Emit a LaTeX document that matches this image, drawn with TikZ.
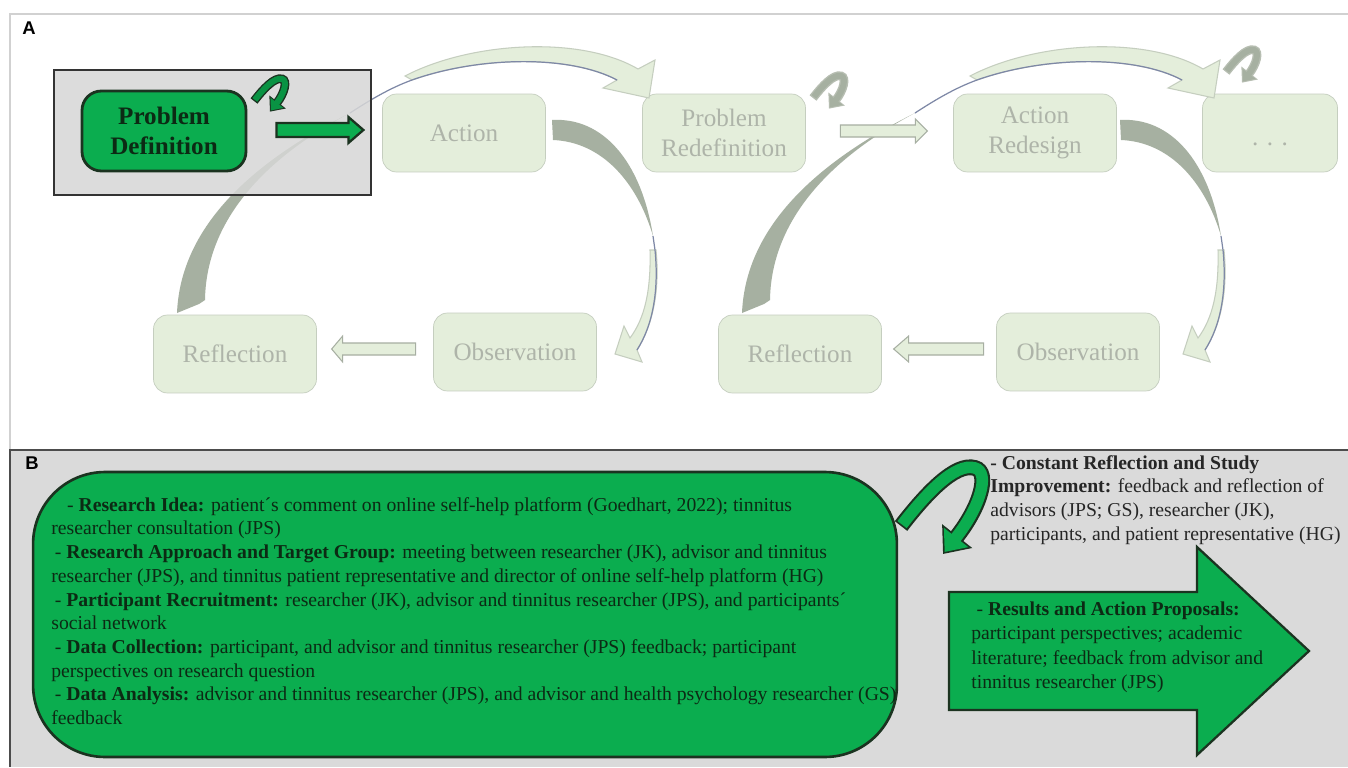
\documentclass[tikz,border=0pt]{standalone}
\usepackage{fontspec}
\setmainfont{Liberation Serif}
\setsansfont{Liberation Sans}
\usepackage{tikz}
\usetikzlibrary{arrows.meta, calc, positioning}

\definecolor{pgreen}{HTML}{0BAD4F}
\definecolor{pline}{HTML}{1B3320}
\definecolor{ptext}{HTML}{0C2A14}
\definecolor{lfill}{HTML}{E4EEDB}
\definecolor{lline}{HTML}{C5CEBF}
\definecolor{ltext}{HTML}{AEB4A9}
\definecolor{gband}{HTML}{A6B0A1}
\definecolor{tline}{HTML}{7E88A6}
\definecolor{boxgray}{HTML}{D7D7D7}
\definecolor{panelgray}{HTML}{DADADA}

\tikzstyle{lightbox} = [rectangle, draw=lline, fill=lfill, rounded corners=8pt, minimum width=3.26cm, minimum height=1.56cm, align=center, text=ltext, font=\fontsize{14.3}{17}\selectfont]
\tikzstyle{greenbox} = [rectangle, draw=pline, line width=1.6pt, fill=pgreen, rounded corners=11pt, minimum width=3.28cm, minimum height=1.6cm, align=center, text=ptext, font=\fontsize{14.3}{17}\selectfont\bfseries]
\tikzstyle{btext} = [anchor=north west, inner sep=0pt, align=left, font=\fontsize{11.2}{13.5}\selectfont]
\tikzstyle{greenarrow} = [fill=pgreen, draw=pline, line width=1.3pt]
\tikzstyle{lightarrow} = [fill=lfill, draw=lline!85!black, line width=0.6pt]
\tikzstyle{lightband} = [fill=lfill, draw=lline, line width=0.6pt]
\tikzstyle{thinline} = [draw=tline, line width=0.7pt]
\tikzstyle{hookA out} = [draw=pline, line width=5pt, -{Triangle[width=11.5pt,length=7pt]}]
\tikzstyle{hookA in} = [draw=pgreen!85!black, line width=3.4pt, shorten <=0.8pt, shorten >=0.9pt, -{Triangle[width=9pt,length=5.5pt]}]
\tikzstyle{hookG out} = [draw=lline!80!gray, line width=5pt, -{Triangle[width=11.5pt,length=7pt]}]
\tikzstyle{hookG in} = [draw=gband, line width=3.4pt, shorten <=0.8pt, shorten >=0.9pt, -{Triangle[width=9pt,length=5.5pt]}]
\tikzstyle{hookB out} = [draw=pline, line width=9pt, -{Triangle[width=21pt,length=13pt]}]
\tikzstyle{hookB in} = [draw=pgreen, line width=6.6pt, shorten <=1pt, shorten >=1.5pt, -{Triangle[width=17pt,length=10.5pt]}]

% block arrow: style, tail, shaft length, half shaft, head overhang, head length
\newcommand{\hblock}[6]{\draw[#1] #2 ++(0,-#4) -- ++(#3,0) -- ++(0,-#5) -- ++(#6,{#4+#5}) -- ++({-(#6)},{#4+#5}) -- ++(0,-#5) -- ++({-(#3)},0) -- cycle;}

% small looping arrow: shift, scale, outer style, inner style
\newcommand{\loopy}[4]{%
  \begin{scope}[shift={#1}, scale=#2]
    \draw[#3] (0,0) .. controls (24,-31) and (54,-64) .. (74,-58) .. controls (89,-54) and (80,-20) .. (42,28);
    \draw[#4] (0,0) .. controls (24,-31) and (54,-64) .. (74,-58) .. controls (89,-54) and (80,-20) .. (42,28);
  \end{scope}}

% curved arrow from reflection back up to the next definition
\newcommand{\uparc}{%
  \fill[gband] (177,313) .. controls (180,240) and (232,172) .. (350,113) .. controls (252,165) and (206,230) .. (205,300) -- (199,304) -- cycle;
  \filldraw[lightband] (405,76) .. controls (470,42) and (580,35) .. (638,69) -- (655,60) -- (649,98) -- (603,88) -- (617,80) .. controls (570,55) and (480,56) .. (412,80) -- cycle;
  \draw[thinline] (350,113) .. controls (370,100) and (390,88) .. (412,80) .. controls (480,56) and (570,55) .. (617,80);}

% curved arrow from action down to observation
\newcommand{\downarc}{%
  \fill[gband] (552,120) .. controls (602,117) and (641,160) .. (653,236) .. controls (637,182) and (602,142) .. (553,140) -- cycle;
  \filldraw[lightband] (650,250) -- (656,250) .. controls (660,290) and (653,325) .. (637,350) -- (642,362) -- (615,354) -- (624,326) -- (630,338) .. controls (645,318) and (651,290) .. (650,250) -- cycle;
  \draw[thinline] (653,236) -- (655,250) .. controls (659,290) and (653,325) .. (637,350);}

\begin{document}
\begin{tikzpicture}[x=0.02cm, y=-0.02cm]

\useasboundingbox (0,0) rectangle (1348,767);
\fill[white] (0,0) rectangle (1348,767);

% panel frames
\draw[black!18, line width=0.8pt] (1348,14) -- (10,14) -- (10,450);
\fill[panelgray] (10,450) rectangle (1348,767);
\draw[black!70, line width=1.2pt] (1348,450) -- (10,450) -- (10,767);

\node[font=\sffamily\bfseries\fontsize{10.5}{12}\selectfont] (labA) at (29,28) {A};
\node[font=\sffamily\bfseries\fontsize{10.5}{12}\selectfont] (labB) at (32,463) {B};

% first cycle (faded)
\node[lightbox] (act) at (464,133) {Action};
\node[lightbox] (obs1) at (515,352) {Observation};
\node[lightbox] (refl1) at (235,354) {Reflection};

% second cycle (faded)
\node[lightbox] (pred) at (724,133) {Problem\\Redefinition};
\node[lightbox] (ared) at (1035,133) {Action\\Redesign};
\node[lightbox, minimum width=2.7cm] (dots) at (1270,133) {\raisebox{-7pt}[0pt][0pt]{. . .}};
\node[lightbox] (obs2) at (1078,352) {Observation};
\node[lightbox] (refl2) at (800,354) {Reflection};

% curved arrows
\uparc
\begin{scope}[shift={(565,0)}]
\uparc
\end{scope}
\downarc
\begin{scope}[shift={(568,0)}]
\downarc
\end{scope}

% straight arrows
\hblock{lightarrow}{($(pred.east)+(34.5,-2)$)}{75}{6}{6}{12}
\hblock{lightarrow}{($(obs1.west)+(-17.5,-3)$)}{-73}{6}{7}{-11}
\hblock{lightarrow}{($(obs2.west)+(-12.5,-3)$)}{-75}{6}{7}{-15}

% highlighted step
\node[rectangle, draw=black!80, line width=1.1pt, fill=boxgray, fill opacity=0.85, minimum width=6.34cm, minimum height=2.5cm] (pdbox) at (212.5,132.5) {};
\node[greenbox] (pd) at (164,131) {Problem\\Definition};
\hblock{greenarrow}{($(pd.east)+(29,-1)$)}{72}{7}{6}{15}

% looping arrows
\loopy{(254,101)}{0.38}{hookA out}{hookA in}
\loopy{(813,98)}{0.38}{hookG out}{hookG in}
\loopy{(1226,72)}{0.38}{hookG out}{hookG in}

% panel B
\node[rectangle, draw=pline, line width=1.5pt, fill=pgreen, rounded corners=1.44cm, minimum width=17.28cm, minimum height=5.7cm] (steps) at (465,614.5) {};
\node[btext, text=ptext] (ideas) at (51,497) {%
\hspace*{9pt}- \textbf{Research Idea:} patient´s comment on online self-help platform (Goedhart, 2022); tinnitus\\
researcher consultation (JPS)\\
\hspace*{2pt}- \textbf{Research Approach and Target Group:} meeting between researcher (JK), advisor and tinnitus\\
researcher (JPS), and tinnitus patient representative and director of online self-help platform (HG)\\
\hspace*{2pt}- \textbf{Participant Recruitment:} researcher (JK), advisor and tinnitus researcher (JPS), and participants´\\
social network\\
\hspace*{2pt}- \textbf{Data Collection:} participant, and advisor and tinnitus researcher (JPS) feedback; participant\\
perspectives on research question\\
\hspace*{2pt}- \textbf{Data Analysis:} advisor and tinnitus researcher (JPS), and advisor and health psychology researcher (GS)\\
feedback};

\loopy{(901,526)}{1}{hookB out}{hookB in}
\node[btext, text=black!85] (reflect) at (990,455) {%
\textbf{- Constant Reflection and Study}\\
\textbf{Improvement:} feedback and reflection of\\
advisors (JPS; GS), researcher (JK),\\
participants, and patient representative (HG)};

\hblock{greenarrow}{(949,651)}{248}{59}{45}{112}
\node[btext, text=ptext, font=\fontsize{11.2}{14}\selectfont] (results) at (971,601) {%
\hspace*{3pt}- \textbf{Results and Action Proposals:}\\
participant perspectives; academic\\
literature; feedback from advisor and\\
tinnitus researcher (JPS)};

\end{tikzpicture}
\end{document}
